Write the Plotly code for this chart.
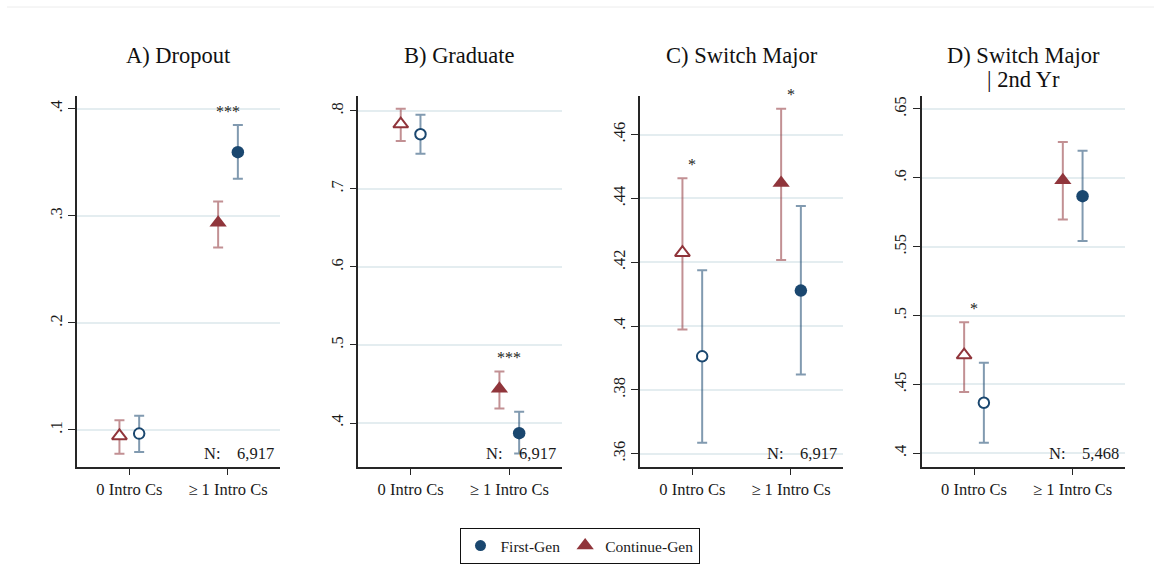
import plotly.graph_objects as go

# ---------------- data ----------------
categories = ["0 Intro Cs", "\u2265 1 Intro Cs"]
panel_titles = [["A) Dropout"], ["B) Graduate"], ["C) Switch Major"], ["D) Switch Major", "| 2nd Yr"]]

first_gen_mean = [[0.0966, 0.3595], [0.770, 0.387], [0.3905, 0.4111], [0.4367, 0.5867]]
first_gen_lo = [[0.0794, 0.3346], [0.745, 0.361], [0.3634, 0.3848], [0.4076, 0.5541]]
first_gen_hi = [[0.1134, 0.3848], [0.795, 0.4145], [0.4175, 0.4376], [0.4657, 0.6196]]

cont_gen_mean = [[0.0944, 0.2937], [0.783, 0.444], [0.4230, 0.4448], [0.4713, 0.5983]]
cont_gen_lo = [[0.0779, 0.2704], [0.7612, 0.4187], [0.3989, 0.4207], [0.4446, 0.5698]]
cont_gen_hi = [[0.1090, 0.3135], [0.8026, 0.466], [0.4463, 0.4681], [0.4952, 0.6260]]

stars = [["", "***"], ["", "***"], ["*", "*"], ["*", ""]]
n_obs = ["6,917", "6,917", "6,917", "5,468"]

y_ranges = [[0.0657, 0.412], [0.344, 0.819], [0.3559, 0.4721], [0.3903, 0.6594]]
y_ticks = [[0.1, 0.2, 0.3, 0.4],
           [0.4, 0.5, 0.6, 0.7, 0.8],
           [0.36, 0.38, 0.40, 0.42, 0.44, 0.46],
           [0.40, 0.45, 0.50, 0.55, 0.60, 0.65]]
y_ticktext = [[".1", ".2", ".3", ".4"],
              [".4", ".5", ".6", ".7", ".8"],
              [".36", ".38", ".4", ".42", ".44", ".46"],
              [".4", ".45", ".5", ".55", ".6", ".65"]]

# ---------------- style ----------------
W, H = 1154, 580
FONT = "Liberation Serif"
NAVY = "#1a476f"
MAROON = "#90353b"
NAVY_CI = "rgba(26,71,111,0.55)"
MAROON_CI = "rgba(144,53,59,0.55)"
GRID = "#e4edf0"
AXIS = "#262626"

plot_left = [77, 358.3, 640, 921.7]
plot_w = 203.3
plot_top, plot_bot = 96, 466.7
cat_pos = [1, 2]
offset = 0.1

fig = go.Figure()

for p in range(4):
    xa = "x" if p == 0 else f"x{p+1}"
    ya = "y" if p == 0 else f"y{p+1}"
    series_list = [
        (cont_gen_mean[p], cont_gen_lo[p], cont_gen_hi[p], "triangle-up", MAROON, MAROON_CI, -offset),
        (first_gen_mean[p], first_gen_lo[p], first_gen_hi[p], "circle", NAVY, NAVY_CI, offset),
    ]
    # confidence intervals first (below markers)
    for mean, lo, hi, sym, col, ci, off in series_list:
        xs = [c + off for c in cat_pos]
        fig.add_trace(go.Scatter(
            x=xs, y=mean, xaxis=xa, yaxis=ya, mode="markers", showlegend=False,
            hoverinfo="skip", marker=dict(size=1, opacity=0),
            error_y=dict(type="data", symmetric=False,
                         array=[h - m for h, m in zip(hi, mean)],
                         arrayminus=[m - l for m, l in zip(mean, lo)],
                         color=ci, thickness=2, width=5),
        ))
    # point estimates on top
    for mean, lo, hi, sym, col, ci, off in series_list:
        xs = [c + off for c in cat_pos]
        size = [10.5, 12.5] if sym == "circle" else [13, 15]
        fig.add_trace(go.Scatter(
            x=xs, y=mean, xaxis=xa, yaxis=ya, mode="markers", showlegend=False,
            marker=dict(symbol=sym, size=size, color=["white", col], opacity=1,
                        line=dict(color=col, width=[2, 0])),
        ))
    # significance stars
    for c in range(2):
        if stars[p][c]:
            top = max(first_gen_hi[p][c], cont_gen_hi[p][c])
            fig.add_annotation(x=cat_pos[c], y=top, xref=xa, yref=ya, text=stars[p][c],
                               showarrow=False, yanchor="middle", yshift=14,
                               font=dict(family=FONT, size=16, color="#222222"))
    # N annotation
    fig.add_annotation(x=1, y=0, xref=f"{xa} domain", yref=f"{ya} domain",
                       text="N:\u00a0\u00a0\u00a0\u00a0" + n_obs[p], showarrow=False,
                       xanchor="right", yanchor="bottom", xshift=-4, yshift=2,
                       font=dict(family=FONT, size=16.5, color="#1a1a1a"))
    # titles
    cx = (plot_left[p] + plot_w / 2) / W
    for i, line in enumerate(panel_titles[p]):
        fig.add_annotation(x=cx, y=1 - (55 + 24 * i) / H, xref="paper", yref="paper",
                           text=line, showarrow=False, xanchor="center", yanchor="middle",
                           font=dict(family=FONT, size=22.5, color="#111111"))

    xdom = [plot_left[p] / W, (plot_left[p] + plot_w) / W]
    ydom = [1 - plot_bot / H, 1 - plot_top / H]
    xkey = "xaxis" if p == 0 else f"xaxis{p+1}"
    ykey = "yaxis" if p == 0 else f"yaxis{p+1}"
    fig.update_layout(**{
        xkey: dict(domain=xdom, anchor=ya, range=[0.47, 2.53], tickvals=cat_pos,
                   ticktext=categories, showgrid=False, zeroline=False,
                   showline=True, linecolor=AXIS, linewidth=1.5,
                   ticks="outside", ticklen=7, tickwidth=1.3, tickcolor=AXIS,
                   tickfont=dict(family=FONT, size=16.5, color="#1a1a1a")),
        ykey: dict(domain=ydom, anchor=xa, range=y_ranges[p], tickvals=y_ticks[p],
                   ticktext=y_ticktext[p], tickangle=-90, showgrid=True, gridcolor=GRID,
                   gridwidth=1.5, zeroline=False, showline=True, linecolor=AXIS,
                   linewidth=1.5, ticks="outside", ticklen=7, tickwidth=1.3,
                   tickcolor=AXIS, tickfont=dict(family=FONT, size=16.5, color="#1a1a1a")),
    })

# legend entries
fig.add_trace(go.Scatter(x=[None], y=[None], mode="markers", name="First-Gen",
                         marker=dict(symbol="circle", size=11, color=NAVY)))
fig.add_trace(go.Scatter(x=[None], y=[None], mode="markers", name="Continue-Gen",
                         marker=dict(symbol="triangle-up", size=15, color=MAROON)))

fig.add_shape(type="line", xref="paper", yref="paper", x0=7 / W, x1=1,
              y0=1 - 7 / H, y1=1 - 7 / H, line=dict(color="#ececec", width=1))

fig.update_layout(
    width=W, height=H, margin=dict(l=0, r=0, t=0, b=0),
    paper_bgcolor="white", plot_bgcolor="white",
    legend=dict(orientation="h", x=579.5 / W, y=1 - 546 / H, xanchor="center", yanchor="middle",
                bordercolor="#111111", borderwidth=1, bgcolor="white",
                font=dict(family=FONT, size=15.5, color="#1a1a1a"),
                itemwidth=30, tracegroupgap=0),
    font=dict(family=FONT),
)

fig.write_html("out.html")
